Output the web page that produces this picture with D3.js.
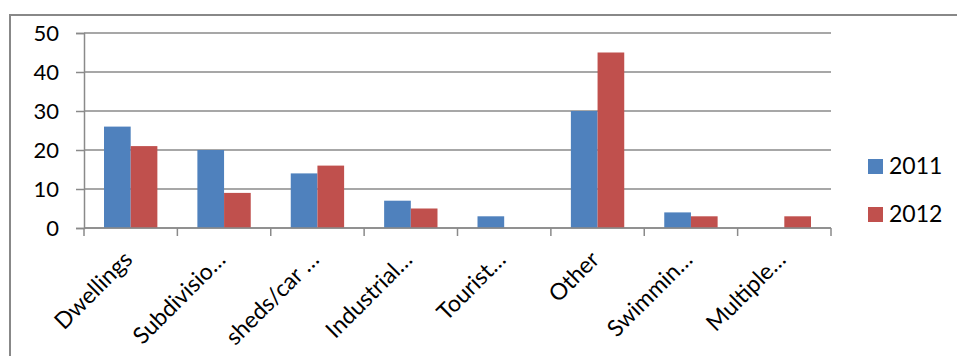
<!DOCTYPE html>
<html>
<head>
<meta charset="utf-8">
<script src="https://cdn.jsdelivr.net/npm/d3@7"></script>
<style>
  html, body { margin: 0; padding: 0; background: #fff; }
  svg { display: block; font-family: Lato, "Open Sans", sans-serif; }
</style>
</head>
<body>
<svg id="chart" width="957" height="356"></svg>
<script>
// Permit categories and counts per year
const categories = ["Dwellings", "Subdivisio…", "sheds/car …", "Industrial…", "Tourist…", "Other", "Swimmin…", "Multiple…"];
const seriesNames = ["2011", "2012"];
const values2011 = [26, 20, 14, 7, 3, 30, 4, 0];
const values2012 = [21, 9, 16, 5, 0, 45, 3, 3];
const yTicks = [0, 10, 20, 30, 40, 50];
const colors = ["#4F81BD", "#C0504D"];

const seriesValues = [values2011, values2012];
const rows = categories.map((c, i) => ({
  category: c,
  values: seriesNames.map((s, k) => ({ series: s, value: seriesValues[k][i] }))
}));

const svg = d3.select("#chart");
const W = 957, H = 356;
const plot = { left: 84, right: 831, top: 33, bottom: 228 };

// chart frame
svg.append("rect")
  .attr("x", 10).attr("y", 15)
  .attr("width", W).attr("height", H)
  .attr("fill", "none")
  .attr("stroke", "#888")
  .attr("stroke-width", 2);

const x0 = d3.scaleBand().domain(categories).range([plot.left, plot.right]).padding(0);
const x1 = d3.scaleBand().domain(seriesNames).range([0, x0.bandwidth()]).paddingInner(0).paddingOuter(0.75);
const y = d3.scaleLinear().domain([0, 50]).range([plot.bottom, plot.top]);
const color = d3.scaleOrdinal().domain(seriesNames).range(colors);

// horizontal gridlines
svg.append("g").selectAll("line")
  .data(yTicks)
  .join("line")
  .attr("x1", plot.left).attr("x2", plot.right)
  .attr("y1", d => y(d)).attr("y2", d => y(d))
  .attr("stroke", "#8a8a8a")
  .attr("stroke-width", 1.5);

// bars
svg.append("g").selectAll("g")
  .data(rows)
  .join("g")
  .attr("transform", d => `translate(${x0(d.category)},0)`)
  .selectAll("rect")
  .data(d => d.values)
  .join("rect")
  .attr("x", d => x1(d.series))
  .attr("width", x1.bandwidth())
  .attr("y", d => y(d.value))
  .attr("height", d => y(0) - y(d.value))
  .attr("fill", d => color(d.series));

// y axis
const yAxis = svg.append("g")
  .attr("transform", `translate(${plot.left},0)`)
  .call(d3.axisLeft(y).tickValues(yTicks).tickSize(8).tickPadding(17).tickFormat(d3.format("d")));
yAxis.select(".domain").attr("stroke", "#8a8a8a").attr("stroke-width", 1.5);
yAxis.selectAll(".tick line").attr("stroke", "#8a8a8a").attr("stroke-width", 1.5);
yAxis.selectAll(".tick text")
  .attr("fill", "#000")
  .style("font-size", "22px")
  .style("font-family", "Lato, 'Open Sans', sans-serif");

// x axis with ticks on category boundaries
const xBase = svg.append("g").attr("transform", `translate(0,${plot.bottom})`);
xBase.append("line")
  .attr("x1", plot.left).attr("x2", plot.right)
  .attr("stroke", "#8a8a8a").attr("stroke-width", 1.5);
const boundaries = categories.map(c => x0(c)).concat([plot.right]);
xBase.selectAll("line.tick")
  .data(boundaries)
  .join("line")
  .attr("class", "tick")
  .attr("x1", d => d).attr("x2", d => d)
  .attr("y1", 0).attr("y2", 8)
  .attr("stroke", "#8a8a8a").attr("stroke-width", 1.5);

// rotated category labels
svg.append("g").selectAll("text")
  .data(categories)
  .join("text")
  .attr("transform", d => `translate(${x0(d) + x0.bandwidth() / 2 + 3},${plot.bottom + 33}) rotate(-45)`)
  .attr("text-anchor", "end")
  .style("font-size", "23px")
  .attr("fill", "#000")
  .text(d => d);

// legend
const legend = svg.append("g").selectAll("g")
  .data(seriesNames)
  .join("g")
  .attr("transform", (d, i) => `translate(868,${159 + i * 48})`);
legend.append("rect")
  .attr("width", 15).attr("height", 15)
  .attr("fill", d => color(d));
legend.append("text")
  .attr("x", 21).attr("y", 14.5)
  .style("font-size", "23px")
  .attr("fill", "#000")
  .text(d => d);
</script>
</body>
</html>
